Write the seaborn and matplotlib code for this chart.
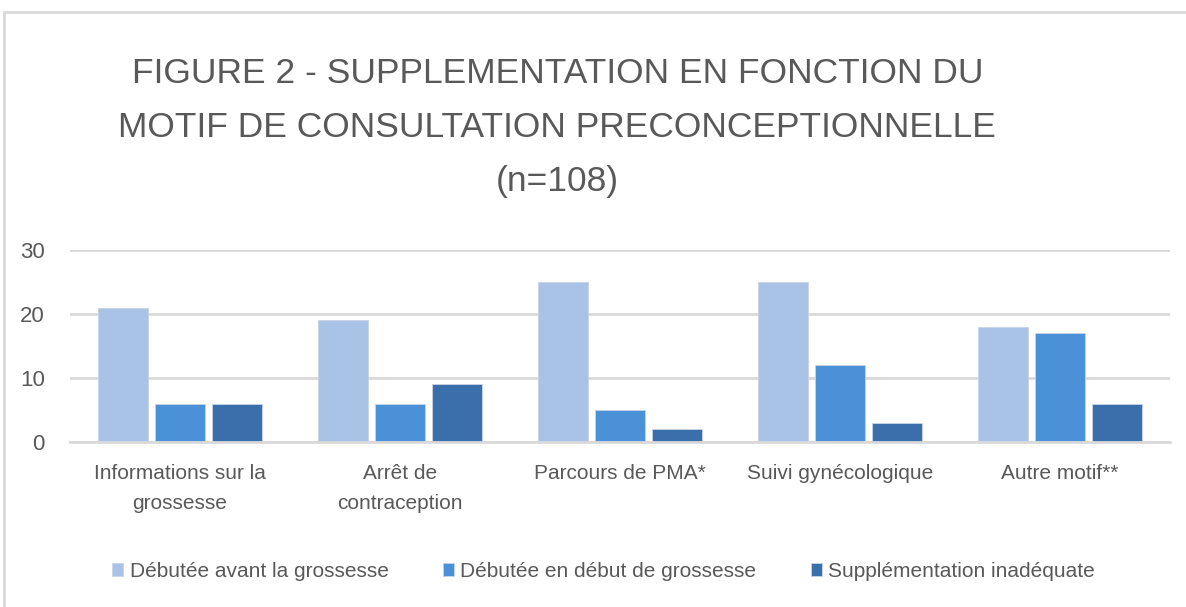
import matplotlib
matplotlib.use("Agg")
import matplotlib.pyplot as plt
import pandas as pd
import seaborn as sns
from matplotlib.patches import Rectangle

# ── Data ──────────────────────────────────────────────────────────────────────
categories = ["Informations sur la\ngrossesse", "Arrêt de\ncontraception",
              "Parcours de PMA*", "Suivi gynécologique", "Autre motif**"]
series = ["Débutée avant la grossesse", "Débutée en début de grossesse",
          "Supplémentation inadéquate"]
avant = [21, 19, 25, 25, 18]
debut = [6, 6, 5, 12, 17]
inadequate = [6, 9, 2, 3, 6]
y_ticks = [0, 10, 20, 30]
colors = ["#a9c3e6", "#4a91d8", "#3a6fab"]

df = pd.DataFrame({
    "motif": categories * 3,
    "serie": [series[0]] * 5 + [series[1]] * 5 + [series[2]] * 5,
    "n": avant + debut + inadequate,
})

sns.set_theme(style="white")
plt.rcParams["font.family"] = ["Liberation Sans", "DejaVu Sans"]

fig = plt.figure(figsize=(11.86, 6.07), dpi=100)
ax = fig.add_axes([0.059, 0.2718, 0.9275, 0.3163])

sns.barplot(data=df, x="motif", y="n", hue="serie", palette=colors,
            saturation=1, width=0.78, gap=0.13, ax=ax, legend=True,
            edgecolor="#c8d4e4", linewidth=0.6)

ax.set_ylim(0, 30)
ax.set_yticks(y_ticks)
ax.yaxis.grid(True, color="#d9d9d9", linewidth=2)
ax.set_axisbelow(True)
for s in ["top", "right", "left"]:
    ax.spines[s].set_visible(False)
ax.spines["bottom"].set_color("#d9d9d9")
ax.spines["bottom"].set_linewidth(2)
ax.set_xlabel("")
ax.set_ylabel("")
ax.tick_params(axis="both", length=0, labelsize=15, colors="#595959")
ax.tick_params(axis="y", labelsize=16, pad=18)
ax.tick_params(axis="x", pad=16)
for lbl in ax.get_xticklabels():
    lbl.set_linespacing(1.75)

leg = ax.legend(loc="center", bbox_to_anchor=(0.485, -0.675), ncol=3,
                frameon=False, fontsize=15, handlelength=0.55, handleheight=0.6,
                columnspacing=2.6, handletextpad=0.3)
for t in leg.get_texts():
    t.set_color("#595959")

fig.text(0.47, 0.79, "FIGURE 2 - SUPPLEMENTATION EN FONCTION DU\n"
         "MOTIF DE CONSULTATION PRECONCEPTIONNELLE\n(n=108)",
         ha="center", va="center", fontsize=25.5, color="#595959",
         linespacing=1.8)

fig.patches.append(Rectangle((0.003, -0.01), 1.2, 0.99, transform=fig.transFigure,
                             fill=False, edgecolor="#d9d9d9", linewidth=2))

fig.savefig("out.png", dpi=100)
